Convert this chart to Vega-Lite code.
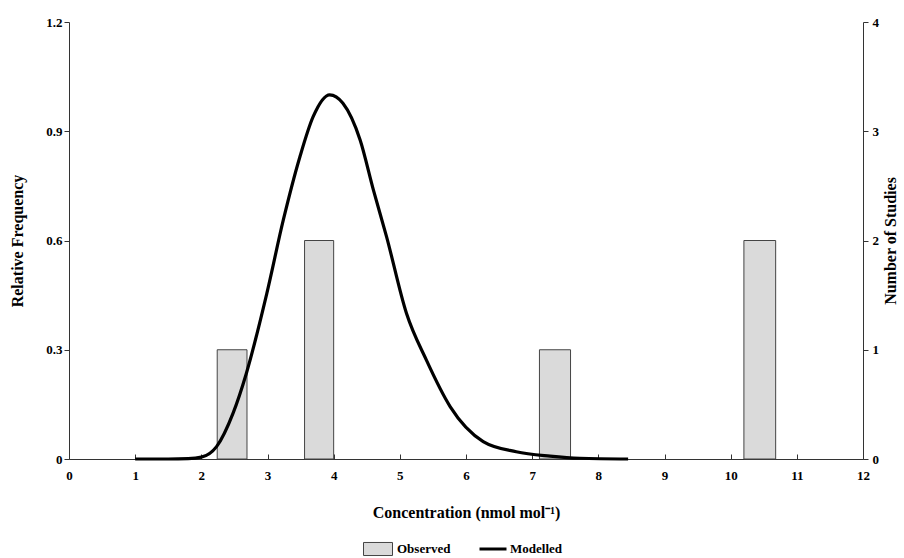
{
  "$schema": "https://vega.github.io/schema/vega-lite/v6.json",
  "width": 794,
  "height": 437,
  "autosize": "none",
  "padding": {"left": 69, "top": 22, "right": 41, "bottom": 99},
  "background": "white",
  "config": {
    "view": {"stroke": null},
    "font": "Liberation Serif",
    "axis": {
      "labelFont": "Liberation Serif", "labelFontWeight": "bold", "labelFontSize": 13, "labelColor": "black",
      "titleFont": "Liberation Serif", "titleFontWeight": "bold", "titleFontSize": 16, "titleColor": "black",
      "domainColor": "#333", "tickColor": "#333", "grid": false
    },
    "legend": {"labelFont": "Liberation Serif", "labelFontWeight": "bold", "labelFontSize": 13, "labelColor": "black", "padding": 0}
  },
  "datasets": {
    "observed": [
      {"x1": 2.24, "x2": 2.69, "studies": 1, "series": "Observed"},
      {"x1": 3.56, "x2": 4.0, "studies": 2, "series": "Observed"},
      {"x1": 7.11, "x2": 7.58, "studies": 1, "series": "Observed"},
      {"x1": 10.2, "x2": 10.68, "studies": 2, "series": "Observed"}
    ],
    "modelled": [
      {"conc": 1.0, "freq": 0.0, "series": "Modelled"},
      {"conc": 1.5, "freq": 0.0, "series": "Modelled"},
      {"conc": 1.8, "freq": 0.001, "series": "Modelled"},
      {"conc": 2.0, "freq": 0.005, "series": "Modelled"},
      {"conc": 2.23, "freq": 0.034, "series": "Modelled"},
      {"conc": 2.48, "freq": 0.126, "series": "Modelled"},
      {"conc": 2.68, "freq": 0.235, "series": "Modelled"},
      {"conc": 2.99, "freq": 0.455, "series": "Modelled"},
      {"conc": 3.24, "freq": 0.657, "series": "Modelled"},
      {"conc": 3.49, "freq": 0.83, "series": "Modelled"},
      {"conc": 3.69, "freq": 0.94, "series": "Modelled"},
      {"conc": 3.94, "freq": 1.0, "series": "Modelled"},
      {"conc": 4.14, "freq": 0.977, "series": "Modelled"},
      {"conc": 4.4, "freq": 0.876, "series": "Modelled"},
      {"conc": 4.6, "freq": 0.739, "series": "Modelled"},
      {"conc": 4.8, "freq": 0.61, "series": "Modelled"},
      {"conc": 5.1, "freq": 0.4, "series": "Modelled"},
      {"conc": 5.4, "freq": 0.272, "series": "Modelled"},
      {"conc": 5.76, "freq": 0.144, "series": "Modelled"},
      {"conc": 6.26, "freq": 0.048, "series": "Modelled"},
      {"conc": 6.76, "freq": 0.02, "series": "Modelled"},
      {"conc": 7.27, "freq": 0.008, "series": "Modelled"},
      {"conc": 7.72, "freq": 0.002, "series": "Modelled"},
      {"conc": 8.45, "freq": 0.0, "series": "Modelled"}
    ]
  },
  "layer": [
    {
      "data": {"name": "observed"},
      "mark": {"type": "bar", "stroke": "#444", "strokeWidth": 1},
      "encoding": {
        "x": {"field": "x1", "type": "quantitative", "scale": {"domain": [0, 12], "nice": false, "padding": 0, "zero": false},
          "axis": {"values": [0,1,2,3,4,5,6,7,8,9,10,11,12], "format": "d", "tickSize": -5, "labelPadding": 15, "labelFlush": false,
            "title": "Concentration (nmol mol⁻¹)", "titlePadding": 22}},
        "x2": {"field": "x2"},
        "y": {"field": "studies", "type": "quantitative", "scale": {"domain": [0, 4], "nice": false},
          "axis": {"orient": "right", "values": [0,1,2,3,4], "title": "Number of Studies", "titleAngle": 270, "titleBaseline": "top", "titlePadding": 4, "labelPadding": 4}},
        "y2": {"datum": 0},
        "fill": {"field": "series", "type": "nominal",
          "scale": {"domain": ["Observed"], "range": ["#dadada"]},
          "legend": {"orient": "none", "legendX": 294, "legendY": 512, "title": null,
            "symbolType": "M-1,-0.45H1V0.45H-1Z", "symbolSize": 841, "symbolStrokeColor": "#444", "symbolStrokeWidth": 1, "labelOffset": 4}}
      }
    },
    {
      "data": {"name": "modelled"},
      "mark": {"type": "line", "interpolate": "monotone", "strokeWidth": 3.2},
      "encoding": {
        "x": {"field": "conc", "type": "quantitative"},
        "y": {"field": "freq", "type": "quantitative", "scale": {"domain": [0, 1.2], "nice": false},
          "axis": {"orient": "left", "values": [0, 0.3, 0.6, 0.9, 1.2],
            "labelExpr": "datum.value == 0 ? '0' : format(datum.value, '.1f')",
            "title": "Relative Frequency", "titlePadding": 20}},
        "stroke": {"field": "series", "type": "nominal",
          "scale": {"domain": ["Modelled"], "range": ["black"]},
          "legend": {"orient": "none", "legendX": 409, "legendY": 512, "title": null,
            "symbolType": "stroke", "symbolSize": 729, "symbolStrokeWidth": 3, "labelOffset": 2}}
      }
    }
  ],
  "resolve": {"scale": {"y": "independent"}}
}
